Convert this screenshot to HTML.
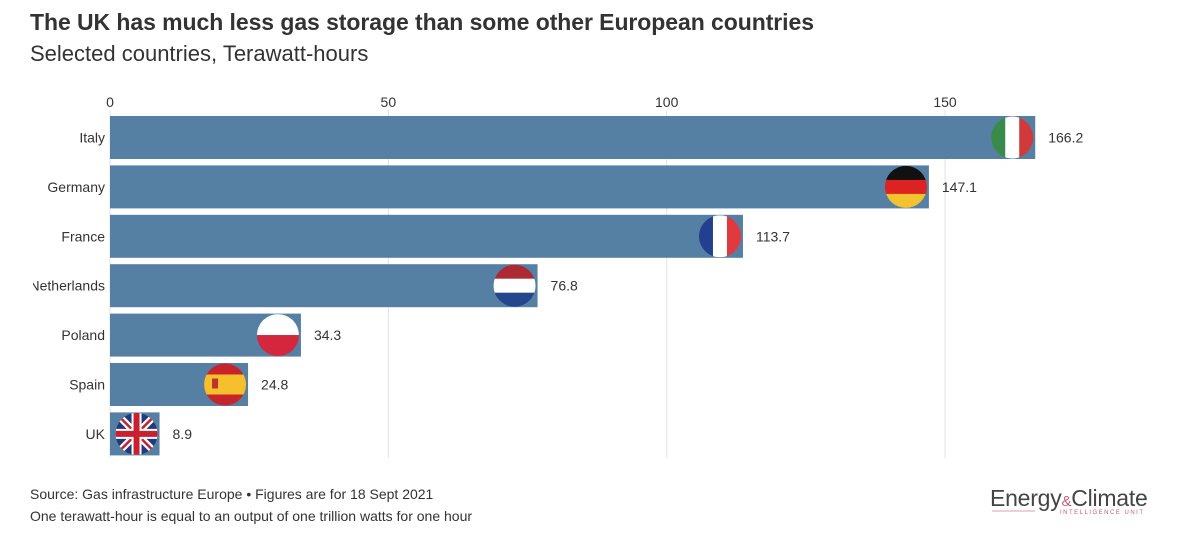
<!DOCTYPE html>
<html><head><meta charset="utf-8"><style>
body{margin:0;background:#fff;font-family:"Liberation Sans",sans-serif;}
#wrap{position:relative;width:1200px;height:533px;overflow:hidden;}
</style></head><body>
<div id="wrap">
<svg id="chart" width="1200" height="533" font-family="Liberation Sans, sans-serif">
<defs>
<clipPath id="cp"><circle cx="0" cy="0" r="21"/></clipPath>
<clipPath id="lblclip"><rect x="33" y="80" width="1200" height="400"/></clipPath>
</defs>
<text x="30" y="30" font-size="23" font-weight="bold" fill="#333" textLength="784">The UK has much less gas storage than some other European countries</text>
<text x="30" y="61" font-size="22" fill="#333">Selected countries, Terawatt-hours</text>
<g id="grid"></g>
<g id="bars"></g>
<g id="labels" clip-path="url(#lblclip)"></g>
<text x="30" y="499" font-size="14" fill="#333">Source: Gas infrastructure Europe • Figures are for 18 Sept 2021</text>
<text x="30" y="521" font-size="14" fill="#333">One terawatt-hour is equal to an output of one trillion watts for one hour</text>
<g>
<text x="990" y="506" font-size="23" fill="#444" letter-spacing="-0.8" textLength="157">Energy<tspan fill="#c4617a" font-size="15">&amp;</tspan>Climate</text>
<line x1="992" y1="511" x2="1035" y2="511" stroke="#d9a0b0" stroke-width="1"/>
<text x="1060" y="514" font-size="6" fill="#c4617a" letter-spacing="2" textLength="85">INTELLIGENCE UNIT</text>
</g>
</svg>
</div>
<script>
const categories=["Italy","Germany","France","Netherlands","Poland","Spain","UK"];
const values=[166.2,147.1,113.7,76.8,34.3,24.8,8.9];
const ticks=[0,50,100,150];
const x0=110,pxPer=5.567,top0=116,step=49.4,bh=43;
const xs=v=>x0+v*pxPer;
const ys=i=>top0+i*step;
const NS="http://www.w3.org/2000/svg";
function mk(t,a,p){const e=document.createElementNS(NS,t);for(const k in a)e.setAttribute(k,a[k]);p.appendChild(e);return e;}
const grid=document.getElementById('grid'),bars=document.getElementById('bars'),labels=document.getElementById('labels');
ticks.forEach(t=>{
 const l=mk('line',{x1:xs(t),x2:xs(t),y1:110,y2:458,stroke:'#e2e2e2'},grid);
 
 
 const tx=mk('text',{x:xs(t),y:107,'font-size':14,fill:'#333','text-anchor':'middle'},grid);
 tx.textContent=t;
 
 
});
const flags={
 Italy:[['v','#3a8a4a','#fff','#d03a3a']],
 Germany:[['h','#111','#d22','#f2c230']],
 France:[['v','#233f8f','#fff','#e0393e']],
 Netherlands:[['h','#ad2a33','#fff','#24468c']],
 Poland:[['h2','#fff','#d4263c']],
 Spain:[['es']],
 UK:[['uk']]
};
function flag(name,cx,cy){
 const g=mk('g',{transform:`translate(${cx},${cy})`,'clip-path':'url(#cp)'},bars);
 
 
 const f=flags[name][0];
 if(f[0]=='v'){for(let i=0;i<3;i++)mk('rect',{x:-21+i*14,y:-21,width:14.2,height:42,fill:f[i+1]},g);}
 else if(f[0]=='h'){for(let i=0;i<3;i++)mk('rect',{x:-21,y:-21+i*14,width:42,height:14.2,fill:f[i+1]},g);}
 else if(f[0]=='h2'){mk('rect',{x:-21,y:-21,width:42,height:21,fill:'#fff'},g);mk('rect',{x:-21,y:0,width:42,height:21,fill:'#d4263c'},g);}
 else if(f[0]=='es'){mk('rect',{x:-21,y:-21,width:42,height:42,fill:'#c8242c'},g);mk('rect',{x:-21,y:-10,width:42,height:20,fill:'#f6c02c'},g);mk('rect',{x:-13,y:-6,width:6,height:10,fill:'#b33'},g);}
 else {mk('rect',{x:-21,y:-21,width:42,height:42,fill:'#1f3b7a'},g);
  mk('path',{d:'M-21,-21L21,21M21,-21L-21,21',stroke:'#fff','stroke-width':7},g);
  mk('path',{d:'M-21,-21L21,21M21,-21L-21,21',stroke:'#c8202f','stroke-width':2.5},g);
  mk('path',{d:'M0,-21V21M-21,0H21',stroke:'#fff','stroke-width':10},g);
  mk('path',{d:'M0,-21V21M-21,0H21',stroke:'#c8202f','stroke-width':6},g);}
}
categories.forEach((c,i)=>{
 const y=ys(i),v=values[i];
 const r=mk('rect',{x:x0,y:y,width:xs(v)-x0,height:bh,fill:'#5580a3'},bars);
 
 
 const lb=mk('text',{x:105,y:y+bh/2+5,'font-size':14,fill:'#333','text-anchor':'end'},labels);
 lb.textContent=c;
 
 
 flag(c,xs(v)-23,y+bh/2);
 const vl=mk('text',{x:xs(v)+13,y:y+bh/2+5,'font-size':14,fill:'#333'},bars);
 vl.textContent=v.toFixed(1);
 
 
});
</script>
</body></html>
